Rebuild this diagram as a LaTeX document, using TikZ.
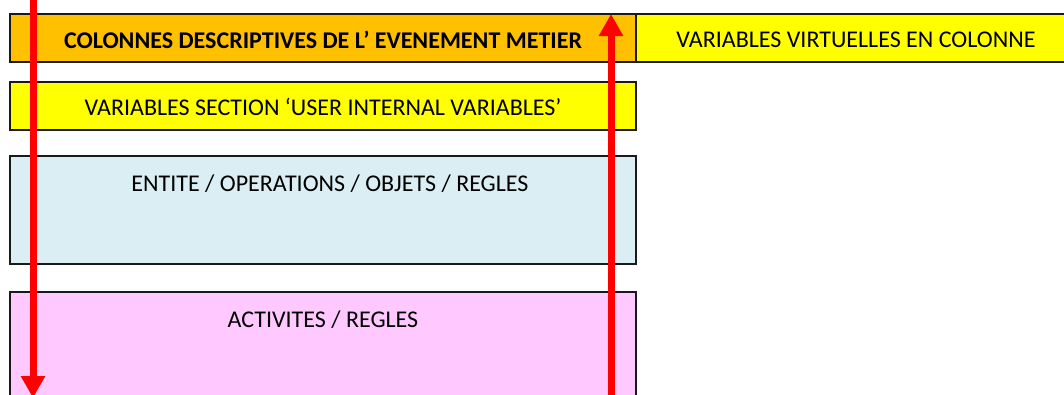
\documentclass[tikz,border=0pt]{standalone}
\usepackage{fontspec}
\setmainfont{Carlito}
\usetikzlibrary{arrows.meta}
\definecolor{orangebox}{HTML}{FFC000}
\definecolor{yellowbox}{HTML}{FFFF00}
\definecolor{bluebox}{HTML}{DAEEF3}
\definecolor{pinkbox}{HTML}{FFC9FF}
\definecolor{edge}{HTML}{1A1A1A}
\begin{document}
\begin{tikzpicture}[x=1pt,y=-1pt,
  box/.style={draw=edge,line width=1.3pt},
  lbl/.style={font=\fontsize{24}{28}\selectfont,inner sep=0pt,anchor=center},
  redarrow/.style={draw=red,line width=7pt,-{Triangle[length=22pt,width=23pt]}}]
\useasboundingbox (0,0) rectangle (1064,394);
% boxes
\path[box,fill=orangebox] (10,14) rectangle (636,62);
\path[box,fill=yellowbox] (636,14) rectangle (1080,62);
\path[box,fill=yellowbox] (10,82) rectangle (636,130);
\path[box,fill=bluebox] (10,156) rectangle (636,264);
\path[box,fill=pinkbox] (10,292) rectangle (636,400);
% labels
\node[lbl,font=\fontsize{24}{28}\selectfont\bfseries] (t1) at (323,40) {COLONNES DESCRIPTIVES DE L’ EVENEMENT METIER};
\node[lbl] (t2) at (856,40) {VARIABLES VIRTUELLES EN COLONNE};
\node[lbl] (t3) at (323,107) {VARIABLES SECTION ‘USER INTERNAL VARIABLES’};
\node[lbl] (t4) at (330,184) {ENTITE / OPERATIONS / OBJETS / REGLES};
\node[lbl] (t5) at (323,320) {ACTIVITES / REGLES};
% arrows
\coordinate (a1s) at (33,0);
\coordinate (a1e) at (33,398);
\coordinate (a2s) at (611,400);
\coordinate (a2e) at (611,14);
\draw[redarrow] (a1s) -- (a1e);
\draw[redarrow] (a2s) -- (a2e);
\end{tikzpicture}
\end{document}
